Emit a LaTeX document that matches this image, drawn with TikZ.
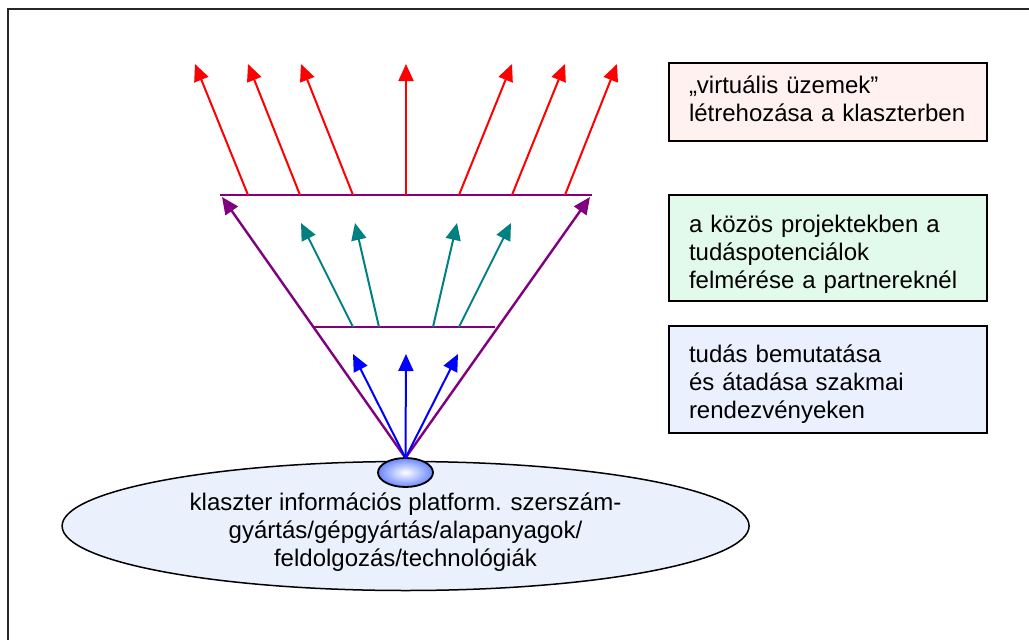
\documentclass[tikz,border=0pt]{standalone}
\usepackage{fontspec}
\setmainfont{Liberation Sans}
\usetikzlibrary{arrows.meta,shapes.geometric}
\definecolor{pinkfill}{RGB}{255,241,240}
\definecolor{greenfill}{RGB}{226,250,235}
\definecolor{bluefill}{RGB}{234,240,254}
\definecolor{ellfill}{RGB}{234,240,252}
\definecolor{hubblue}{RGB}{105,135,255}
\definecolor{tealc}{RGB}{0,128,128}
\definecolor{purplec}{RGB}{128,0,128}
\tikzset{
  tip/.style={-{Triangle[length=17pt,width=15pt]}},
  redarr/.style={draw=red, line width=2pt, tip},
  tealarr/.style={draw=tealc, line width=2pt, tip},
  bluearr/.style={draw=blue, line width=2pt, tip},
  purplearr/.style={draw=purplec, line width=2.4pt, tip},
  purpleline/.style={draw=purplec, line width=2.2pt},
  infobox/.style={draw=black, line width=1.5pt, anchor=north west, align=left,
    text width=278pt, inner xsep=20pt, inner ysep=0pt, outer sep=0pt,
    font=\fontsize{24}{28}\selectfont},
  textlabel/.style={align=center, inner sep=0pt, font=\fontsize{24}{28}\selectfont}
}
\begin{document}
\begin{tikzpicture}[x=1pt,y=-1pt]
\useasboundingbox (0,0) rectangle (1029,640);
% frame
\draw[line width=2pt, black!85] (8,640) -- (8,9) -- (1029,9);

% platform ellipse
\node[ellipse, draw=black, line width=1.5pt, fill=ellfill, minimum width=687pt,
      minimum height=129pt, inner sep=0pt, outer sep=0pt] (platform) at (405.6,526) {};
\node[textlabel, anchor=north] (platformtext) at (405.5,490)
  {\rule{0pt}{20pt}klaszter információs platform. szerszám-\\gyártás/gépgyártás/alapanyagok/\\feldolgozás/technológiák};

% hub
\node[ellipse, draw=black, line width=1.8pt, minimum width=55pt, minimum height=29pt,
      inner sep=0pt, outer sep=0pt, shading=radial, inner color=white, outer color=hubblue] (hub) at (405.5,472.5) {};
\coordinate (apex) at (hub.north);

% funnel levels
\coordinate (TL) at (220,195);
\coordinate (TR) at (592,195);
\coordinate (ML) at (314,327);
\coordinate (MR) at (495,327);
\coordinate (PTL) at (222,197);
\coordinate (PTR) at (590,197);
\draw[purpleline] (TL) -- (TR);
\draw[purpleline] (ML) -- (MR);
\draw[purplearr] (apex) -- (PTL);
\draw[purplearr] (apex) -- (PTR);

% blue arrows
\foreach \i/\ex in {1/353,2/406,3/458} {
  \coordinate (be\i) at (\ex,354);
  \draw[bluearr] (apex) -- (be\i);
}
% teal arrows
\foreach \i/\sx/\ex in {1/353/301,2/379/355,3/433/457,4/459/511} {
  \coordinate (ts\i) at (\sx,327);
  \coordinate (te\i) at (\ex,223);
  \draw[tealarr] (ts\i) -- (te\i);
}
% red arrows
\foreach \i/\sx/\ex in {1/248/195,2/300/248,3/353/301,4/406/406,5/459/512,6/512/565,7/565/617} {
  \coordinate (rs\i) at (\sx,195);
  \coordinate (re\i) at (\ex,64);
  \draw[redarr] (rs\i) -- (re\i);
}

% boxes
\node[infobox, fill=pinkfill] (box1) at (669,63)
  {\rule{0pt}{30pt}„virtuális üzemek”\\létrehozása a klaszterben\rule[-20pt]{0pt}{20pt}};
\node[infobox, fill=greenfill] (box2) at (669,195)
  {\rule{0pt}{37pt}a közös projektekben a\\tudáspotenciálok\\felmérése a partnereknél\rule[-13pt]{0pt}{13pt}};
\node[infobox, fill=bluefill] (box3) at (669,326)
  {\rule{0pt}{36pt}tudás bemutatása\\és átadása szakmai\\rendezvényeken\rule[-15pt]{0pt}{15pt}};
\end{tikzpicture}
\end{document}
